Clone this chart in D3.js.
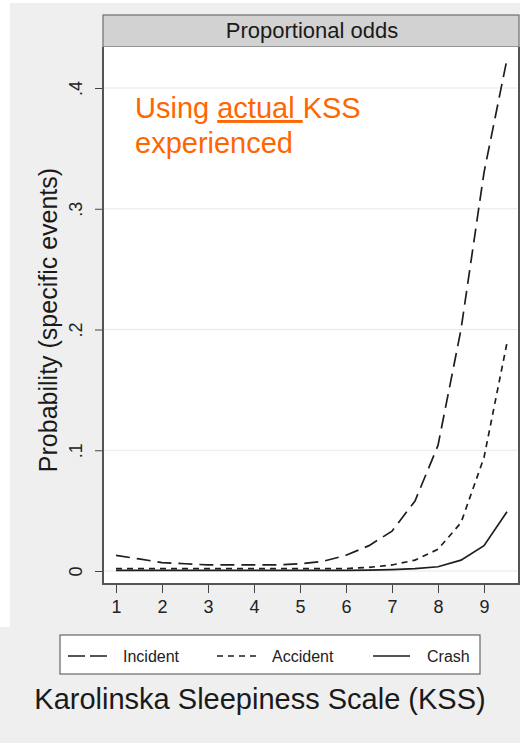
<!DOCTYPE html>
<html>
<head>
<meta charset="utf-8">
<script src="https://cdn.jsdelivr.net/npm/d3@7"></script>
<style>
  body { margin: 0; background: #fff; }
  svg { display: block; font-family: "Liberation Sans", Arial, sans-serif; }
</style>
</head>
<body>
<div id="chart"></div>
<script>
// KSS levels and predicted probabilities
const kss = [1, 1.5, 2, 2.5, 3, 3.5, 4, 4.5, 5, 5.5, 6, 6.5, 7, 7.5, 8, 8.5, 9, 9.5];
const incident = [0.013, 0.010, 0.007, 0.006, 0.005, 0.005, 0.005, 0.005, 0.006, 0.008, 0.013, 0.021, 0.033, 0.058, 0.104, 0.200, 0.330, 0.424];
const accident = [0.002, 0.002, 0.002, 0.002, 0.002, 0.002, 0.002, 0.002, 0.002, 0.002, 0.002, 0.003, 0.005, 0.009, 0.018, 0.040, 0.094, 0.189];
const crash = [0.0005, 0.0005, 0.0005, 0.0005, 0.0005, 0.0005, 0.0005, 0.0005, 0.0005, 0.0005, 0.0006, 0.0008, 0.0012, 0.002, 0.0035, 0.009, 0.021, 0.049];
const xTicks = [1, 2, 3, 4, 5, 6, 7, 8, 9];
const yTicks = [0, 0.1, 0.2, 0.3, 0.4];
const yTickLabels = ['0', '.1', '.2', '.3', '.4'];

const series = [
    { name: 'Incident', values: incident, dash: '14,7', legendDash: '17,5' },
    { name: 'Accident', values: accident, dash: '6,5', legendDash: '6,5' },
    { name: 'Crash', values: crash, dash: null, legendDash: null }
];

const W = 520, H = 745;
const svg = d3.select('#chart').append('svg')
    .attr('width', W)
    .attr('height', H);

// grey backgrounds
svg.append('rect').attr('x', 10).attr('y', 3).attr('width', W - 10).attr('height', 624).attr('fill', '#efefef');
svg.append('rect').attr('x', 0).attr('y', 627).attr('width', W).attr('height', 116).attr('fill', '#efefef');

const plot = { left: 103, right: 519, top: 47, bottom: 584 };

const x = d3.scaleLinear().domain([1, 9]).range([116, 484]);
const y = d3.scaleLinear().domain([0, 0.4]).range([571, 88]);

// header strip
svg.append('rect')
    .attr('x', plot.left).attr('y', 15)
    .attr('width', plot.right - plot.left).attr('height', plot.top - 15)
    .attr('fill', '#d2d2d2').attr('stroke', '#6e6e6e').attr('stroke-width', 1.2);
svg.append('text')
    .attr('x', 312).attr('y', 38)
    .attr('text-anchor', 'middle')
    .attr('font-size', 22).attr('fill', '#1a1a1a')
    .text('Proportional odds');

// plot region
svg.append('rect')
    .attr('x', plot.left).attr('y', plot.top)
    .attr('width', plot.right - plot.left).attr('height', plot.bottom - plot.top)
    .attr('fill', '#fff');

// grid
svg.append('g').selectAll('line')
    .data(yTicks)
    .join('line')
    .attr('x1', plot.left).attr('x2', plot.right)
    .attr('y1', d => y(d)).attr('y2', d => y(d))
    .attr('stroke', '#e8e8e8').attr('stroke-width', 1.2);

// y axis
const yAxis = svg.append('g')
    .attr('transform', `translate(${plot.left},0)`)
    .call(d3.axisLeft(y).tickValues(yTicks).tickSize(8).tickFormat((d, i) => yTickLabels[i]));
yAxis.select('.domain').remove();
yAxis.selectAll('line').attr('stroke', '#444');
yAxis.selectAll('text')
    .attr('font-size', 18).attr('fill', '#222')
    .attr('font-family', '"Liberation Sans", Arial, sans-serif')
    .attr('x', 0).attr('dy', 0)
    .attr('text-anchor', 'middle')
    .attr('transform', 'translate(-21,0) rotate(-90)');

// x axis
const xAxis = svg.append('g')
    .attr('transform', `translate(0,${plot.bottom})`)
    .call(d3.axisBottom(x).tickValues(xTicks).tickSize(9).tickFormat(d3.format('d')));
xAxis.select('.domain').remove();
xAxis.selectAll('line').attr('stroke', '#444');
xAxis.selectAll('text')
    .attr('font-size', 18).attr('fill', '#222')
    .attr('font-family', '"Liberation Sans", Arial, sans-serif')
    .attr('y', 16).attr('dy', '0.71em');

// plot border
svg.append('path')
    .attr('d', `M${plot.left},${plot.top}V${plot.bottom}H${plot.right}V${plot.top}`)
    .attr('fill', 'none').attr('stroke', '#555').attr('stroke-width', 2);

// lines
const line = d3.line()
    .x((d, i) => x(kss[i]))
    .y(d => y(d));

svg.append('g').selectAll('path')
    .data(series)
    .join('path')
    .attr('d', d => line(d.values))
    .attr('fill', 'none')
    .attr('stroke', '#1e1e1e')
    .attr('stroke-width', 1.7)
    .attr('stroke-dasharray', d => d.dash);

// annotation
const note = svg.append('text')
    .attr('font-size', 29).attr('fill', '#ff6600');
note.append('tspan').attr('x', 135).attr('y', 118).text('Using ');
note.append('tspan').attr('text-decoration', 'underline').text('actual ');
note.append('tspan').text('KSS');
note.append('tspan').attr('x', 135).attr('y', 153).text('experienced');

// y title
svg.append('text')
    .attr('transform', 'translate(57,320) rotate(-90)')
    .attr('text-anchor', 'middle')
    .attr('font-size', 25).attr('fill', '#1a1a1a')
    .text('Probability (specific events)');

// legend
const legend = svg.append('g');
legend.append('rect')
    .attr('x', 60).attr('y', 635).attr('width', 420).attr('height', 39)
    .attr('fill', '#fff').attr('stroke', '#666').attr('stroke-width', 1.2);
const legendX = [[68, 107, 123], [217, 257, 272], [373, 410, 427]];
const items = legend.selectAll('g.item')
    .data(series)
    .join('g').attr('class', 'item');
items.append('line')
    .attr('x1', (d, i) => legendX[i][0]).attr('x2', (d, i) => legendX[i][1])
    .attr('y1', 656).attr('y2', 656)
    .attr('stroke', '#1e1e1e').attr('stroke-width', 1.6)
    .attr('stroke-dasharray', d => d.legendDash);
items.append('text')
    .attr('x', (d, i) => legendX[i][2]).attr('y', 661.5)
    .attr('font-size', 16).attr('fill', '#222')
    .text(d => d.name);

// x title
svg.append('text')
    .attr('x', 260).attr('y', 709)
    .attr('text-anchor', 'middle')
    .attr('font-size', 29).attr('fill', '#1a1a1a')
    .text('Karolinska Sleepiness Scale (KSS)');
</script>
</body>
</html>
